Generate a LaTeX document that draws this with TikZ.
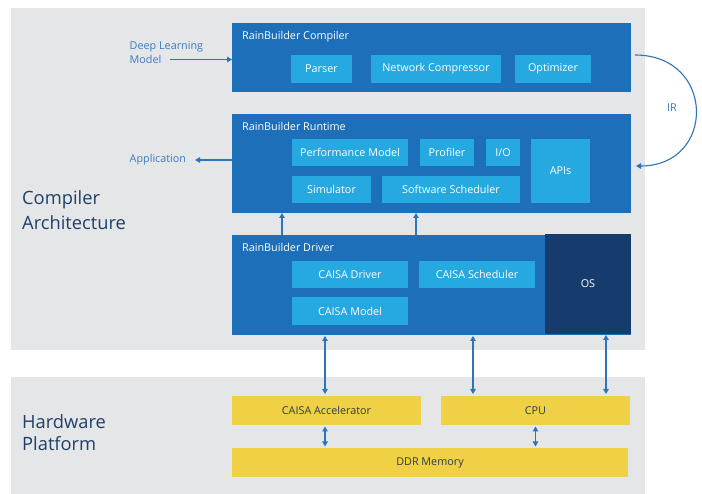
\documentclass[tikz,border=0pt]{standalone}
\usepackage{fontspec}
\setmainfont{Open Sans}
\usetikzlibrary{arrows.meta,calc}
\definecolor{panel}{HTML}{E5E6E8}
\definecolor{dblue}{HTML}{1C6FB8}
\definecolor{lblue}{HTML}{26A9E0}
\definecolor{navy}{HTML}{163C6D}
\definecolor{yel}{HTML}{F0D045}
\definecolor{ytext}{HTML}{2B3A55}
\definecolor{bigtext}{HTML}{1F3F6A}
\definecolor{lbltext}{HTML}{3B7CC0}
\definecolor{arrc}{HTML}{2D74B8}
\tikzset{
  rect/.style={inner sep=0pt, outer sep=0pt},
  panelbox/.style={rect, fill=panel},
  bigbox/.style={rect, fill=dblue},
  subbox/.style={rect, fill=lblue, text=white, font=\fontsize{10.8}{13}\selectfont},
  osbox/.style={rect, fill=navy, text=white, font=\fontsize{10.8}{13}\selectfont},
  hwbox/.style={rect, fill=yel, text=ytext, font=\fontsize{10.8}{13}\selectfont},
  title/.style={text=white, anchor=base west, inner sep=0pt, font=\fontsize{10.8}{13}\selectfont},
  biglabel/.style={text=bigtext, anchor=north west, inner sep=0pt, align=left, font=\fontsize{18.3}{22.5}\selectfont},
  smalllabel/.style={text=lbltext, inner sep=0pt, align=left, font=\fontsize{10.8}{12.5}\selectfont},
  arr/.style={draw=arrc, line width=1.1pt, -{Triangle[width=5.5pt,length=5pt]}},
  darr/.style={draw=arrc, line width=1.1pt, {Triangle[width=5.5pt,length=5pt]}-{Triangle[width=5.5pt,length=5pt]}},
}
% box from corners (x1,y1)-(x2,y2) in pixel units
\newcommand{\pbox}[6]{\node[#1, minimum width={(#5)-(#3)}, minimum height={(#6)-(#4)}] (#2) at ({((#3)+(#5))/2},{((#4)+(#6))/2}) {};}
\newcommand{\tbox}[7]{\node[#1, minimum width={(#5)-(#3)}, minimum height={(#6)-(#4)}] (#2) at ({((#3)+(#5))/2},{((#4)+(#6))/2}) {#7};}
\begin{document}
\begin{tikzpicture}[x=1pt,y=-1pt]
\useasboundingbox[fill=white] (0,0) rectangle (702,494);
% panels
\pbox{panelbox}{ptop}{11}{8}{645}{350}
\pbox{panelbox}{pbot}{11}{377}{645}{494}
% compiler
\pbox{bigbox}{compiler}{232}{23}{631}{92}
\node[title] (ctitle) at (242,40) {RainBuilder Compiler};
\tbox{subbox}{parser}{291}{55}{352}{83}{Parser}
\tbox{subbox}{netcomp}{371}{55}{501}{83}{Network Compressor}
\tbox{subbox}{optim}{515}{55}{591}{83}{Optimizer}
% runtime
\pbox{bigbox}{runtime}{232}{114}{631}{213}
\node[title] (rtitle) at (242,131) {RainBuilder Runtime};
\tbox{subbox}{perf}{292}{139}{408}{166}{Performance Model}
\tbox{subbox}{profiler}{420}{139}{474}{166}{Profiler}
\tbox{subbox}{io}{486}{139}{520}{166}{I/O}
\tbox{subbox}{apis}{531}{139}{590}{203}{APIs}
\tbox{subbox}{sim}{292}{176}{371}{203}{Simulator}
\tbox{subbox}{swsched}{382}{176}{520}{203}{Software Scheduler}
% driver
\pbox{bigbox}{driver}{232}{235}{631}{335}
\tbox{osbox}{os}{545}{234}{631}{334}{OS}
\node[title] (dtitle) at (242,252) {RainBuilder Driver};
\tbox{subbox}{cdrv}{292}{261}{408}{288}{CAISA Driver}
\tbox{subbox}{csch}{419}{261}{535}{288}{CAISA Scheduler}
\tbox{subbox}{cmodel}{292}{297}{408}{325}{CAISA Model}
% hardware
\tbox{hwbox}{accel}{232}{396}{421}{425}{CAISA Accelerator}
\tbox{hwbox}{cpu}{441}{396}{630}{425}{CPU}
\tbox{hwbox}{ddr}{232}{448}{628}{477}{DDR Memory}
% big labels
\node[biglabel, anchor=west] (lcomp) at (22,200) {Compiler};
\node[biglabel, anchor=west] (lcomp2) at (22,222.5) {Architecture};
\node[biglabel, anchor=west] (lhw) at (22,421.5) {Hardware};
\node[biglabel, anchor=west] (lhw2) at (22,443.5) {Platform};
% small labels
\node[smalllabel, anchor=west] (dlm) at (129.5,46.5) {Deep Learning};
\node[smalllabel, anchor=west] (dlm2) at (129.5,59) {Model};
\node[smalllabel, anchor=west] (app) at (129.5,160) {Application};
\coordinate (dlstart) at (170,59.5);
\coordinate (append) at (195,160);
\draw[arr] (dlstart) -- (compiler.west |- dlstart);
\draw[arr] (runtime.west |- append) -- (append);
% IR arc
\coordinate (irs) at (635,55);
\coordinate (ire) at (636,166);
\draw[arr] (irs) .. controls (716,55) and (716,166) .. (ire);
\node[smalllabel, anchor=center] (ir) at (672,108) {IR};
% driver -> runtime
\draw[arr] ([xshift=50pt]driver.north west) -- ([xshift=50pt]runtime.south west);
\draw[arr] ([xshift=184pt]driver.north west) -- ([xshift=184pt]runtime.south west);
% driver <-> hardware
\draw[darr] ([xshift=93pt,yshift=-1pt]driver.south west) -- ([xshift=93pt,yshift=2pt]accel.north west);
\draw[darr] ([xshift=32pt,yshift=-1pt]cpu.north west |- driver.south) -- ([xshift=32pt,yshift=2pt]cpu.north west);
\draw[darr] ([xshift=165pt,yshift=-1pt]cpu.north west |- os.south) -- ([xshift=165pt,yshift=2pt]cpu.north west);
% hardware <-> ddr
\draw[darr] ([xshift=93pt,yshift=-1.5pt]accel.south west) -- ([xshift=93pt,yshift=1.5pt]ddr.north west);
\draw[darr] ([yshift=-1.5pt]cpu.south) -- ([yshift=1.5pt]cpu.south |- ddr.north);
\end{tikzpicture}
\end{document}
